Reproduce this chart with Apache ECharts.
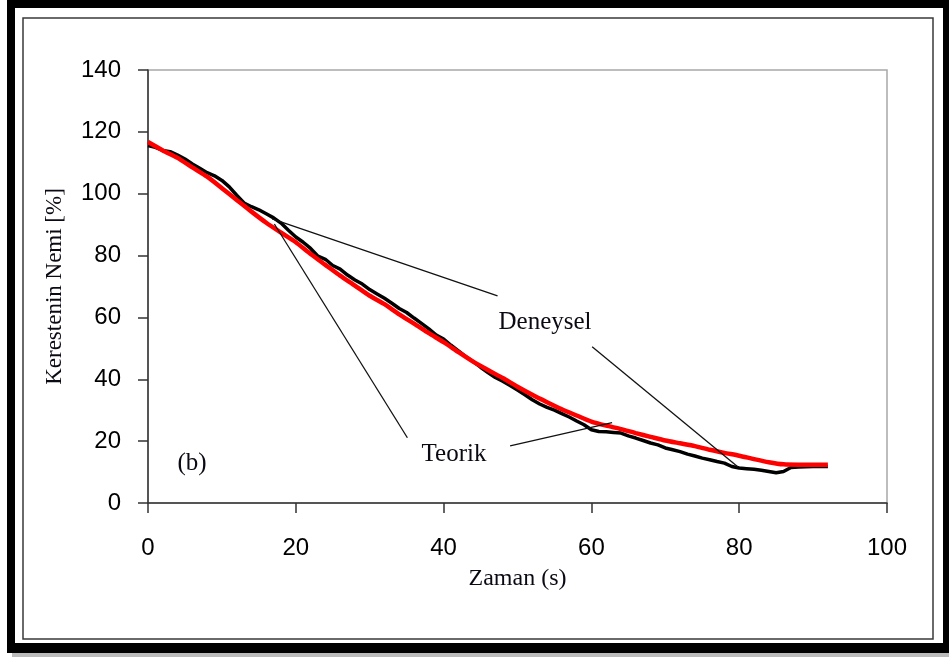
<!DOCTYPE html>
<html>
<head>
<meta charset="utf-8">
<script src="https://cdn.jsdelivr.net/npm/echarts@6/dist/echarts.min.js"></script>
<style>html,body{margin:0;padding:0;background:#fff;}#c{width:949px;height:657px;}</style>
</head>
<body>
<div id="c"></div>
<script>
// Deneysel (experimental) : time [s] and moisture [%]
const deneyselT = [0,1,2,3,4,5,6,7,8,9,10,11,12,13,14,15,16,17,18,19,20,21,22,23,24,25,26,27,28,29,30,31,32,33,34,35,36,37,38,39,40,41,42,43,44,45,46,47,48,49,50,51,52,53,54,55,56,57,58,59,60,61,62,63,64,65,66,67,68,69,70,71,72,73,74,75,76,77,78,79,80,81,82,83,84,85,86,87,88,89,90,91,92];
const deneyselV = [115.6,115,114,113.6,112.5,111.2,109.6,108.2,106.8,105.8,104.3,102.2,99.5,97,95.8,94.8,93.5,92.2,90.5,88.2,86,84.3,82.3,79.8,78.8,76.8,75.6,73.7,72.1,70.8,69,67.6,66.2,64.6,62.9,61.6,59.8,58.1,56.3,54.3,53,51,49.2,47.3,45.7,43.9,42.2,40.6,39.4,38,36.5,35,33.4,32,30.9,30,28.9,27.8,26.5,25.3,23.7,23.1,23,22.8,22.6,21.7,21,20.2,19.4,18.8,17.8,17.2,16.6,15.8,15.2,14.5,14,13.4,12.9,11.8,11.3,11.1,10.9,10.6,10.2,9.8,10.2,11.5,11.6,11.7,11.8,11.8,11.8];
// Teorik (theoretical)
const teorikT = [0,2,4,6,8,10,12,14,16,18,20,22,24,26,28,30,32,34,36,38,40,42,44,46,48,50,52,54,56,58,60,62,64,66,68,70,72,74,76,78,80,82,84,86,88,90,92];
const teorikV = [116.7,114,111.6,108.5,105.5,101.8,98,94.2,90.6,87.4,84.3,80.5,77,73.5,70.3,67,64.3,61,58,54.9,52,48.8,45.7,43,40.4,37.6,35,32.6,30.3,28.3,26.3,25,23.9,22.6,21.4,20.2,19.3,18.4,17.2,16.2,15.3,14.2,13.2,12.5,12.4,12.4,12.4];
// Axis ticks
const xTicks = [0,20,40,60,80,100];
const yTicks = [0,20,40,60,80,100,120,140];
// Annotation labels and leader lines (data coordinates)
const annLabels = ['Deneysel','Teorik','(b)'];
const leaderLines = [
  [[16.8,91.9],[47.3,67.0]],
  [[17.1,90.2],[35.1,21.1]],
  [[60.1,50.5],[79.8,11.7]],
  [[49.0,18.5],[62.8,26.0]]
];

const dnData = deneyselT.map((t,i)=>[t,deneyselV[i]]);
const tkData = teorikT.map((t,i)=>[t,teorikV[i]]);
const serif = '"Liberation Serif","Times New Roman",serif';
const sans = '"Liberation Sans",Arial,sans-serif';

const chart = echarts.init(document.getElementById('c'), null, {renderer:'canvas'});
chart.setOption({
  animation:false,
  backgroundColor:'#fff',
  graphic:[
    {type:'rect', z:-10, silent:true, shape:{x:7,y:0,width:942,height:653}, style:{fill:'#000'}},
    {type:'rect', z:-10, silent:true, shape:{x:12,y:653,width:937,height:4}, style:{fill:'#bbb'}},
    {type:'rect', z:-9, silent:true, shape:{x:15,y:8,width:928,height:635}, style:{fill:'#fff'}},
    {type:'rect', z:-8, silent:true, shape:{x:23,y:18,width:910,height:621}, style:{fill:'#fff', stroke:'#3a3a3a', lineWidth:1.5}},
    {type:'rect', z:5, silent:true, shape:{x:492,y:303,width:106,height:36}, style:{fill:'#fff'}},
    {type:'text', z:6, silent:true, style:{text:annLabels[0], x:545, y:322, textAlign:'center', textVerticalAlign:'middle', font:'25px '+serif, fill:'#0a0a14'}},
    {type:'rect', z:5, silent:true, shape:{x:412,y:436,width:84,height:36}, style:{fill:'#fff'}},
    {type:'text', z:6, silent:true, style:{text:annLabels[1], x:454, y:454, textAlign:'center', textVerticalAlign:'middle', font:'25px '+serif, fill:'#0a0a14'}},
    {type:'text', z:6, silent:true, style:{text:annLabels[2], x:192, y:463, textAlign:'center', textVerticalAlign:'middle', font:'25px '+serif, fill:'#0a0a14'}}
  ],
  grid:{left:148, top:70, width:739, height:433, show:true, borderColor:'#a8a8a8', borderWidth:1.5, backgroundColor:'transparent'},
  xAxis:{
    type:'value', min:xTicks[0], max:xTicks[xTicks.length-1], interval:20,
    name:'Zaman (s)', nameLocation:'middle', nameGap:64,
    nameTextStyle:{fontFamily:serif, fontSize:24, color:'#0a0a14'},
    axisLine:{show:true, onZero:false, lineStyle:{color:'#333', width:1.5}},
    axisTick:{show:true, inside:false, length:10, lineStyle:{color:'#333', width:1.5}},
    axisLabel:{margin:33, fontFamily:sans, fontSize:24, color:'#000'},
    splitLine:{show:false}
  },
  yAxis:{
    type:'value', min:yTicks[0], max:yTicks[yTicks.length-1], interval:20,
    name:'Kerestenin Nemi [%]', nameLocation:'middle', nameGap:82, nameRotate:90,
    nameTextStyle:{fontFamily:serif, fontSize:23, color:'#0a0a14'},
    axisLine:{show:true, onZero:false, lineStyle:{color:'#333', width:1.5}},
    axisTick:{show:true, inside:false, length:10, lineStyle:{color:'#333', width:1.5}},
    axisLabel:{margin:27, fontFamily:sans, fontSize:24, color:'#000'},
    splitLine:{show:false}
  },
  series:[
    {name:'Deneysel', type:'line', data:dnData, showSymbol:false, symbol:'none', z:3,
     lineStyle:{color:'#000', width:3.5}, itemStyle:{color:'#000'}},
    {name:'Teorik', type:'line', data:tkData, showSymbol:false, symbol:'none', smooth:0.2, z:4,
     lineStyle:{color:'#ff0000', width:4.5}, itemStyle:{color:'#ff0000'},
     markLine:{silent:true, symbol:['none','none'], z:7, label:{show:false},
       lineStyle:{color:'#111', width:1.3, type:'solid'},
       emphasis:{disabled:true},
       data:leaderLines.map(l=>[{coord:l[0]},{coord:l[1]}])}
    }
  ]
});
</script>
</body>
</html>
